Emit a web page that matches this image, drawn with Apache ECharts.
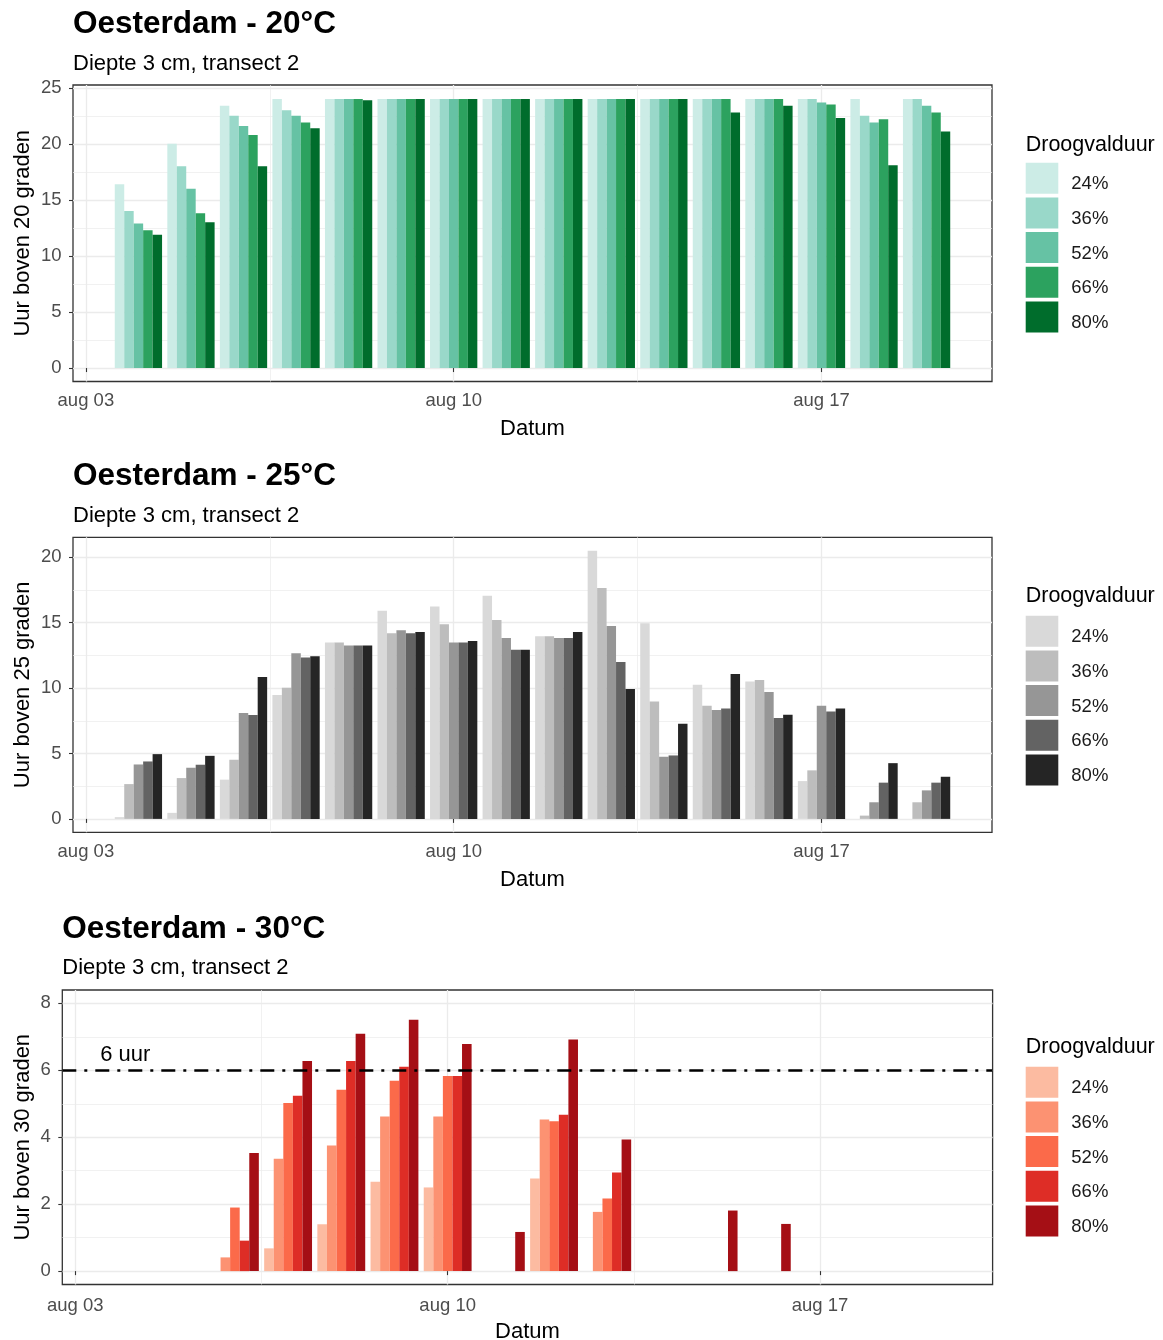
<!DOCTYPE html>
<html>
<head>
<meta charset="utf-8">
<script src="https://cdn.jsdelivr.net/npm/echarts@6/dist/echarts.min.js"></script>
<style>
  html, body { margin: 0; padding: 0; background: #ffffff; }
  #chart { width: 1163px; height: 1340px; }
</style>
</head>
<body>
<div id="chart"></div>
<script>
// Uren boven een drempeltemperatuur, Oesterdam, diepte 3 cm, transect 2
const FONT = '"Liberation Sans", Arial, Helvetica, sans-serif';

// Dag van de maand (augustus)
const days = [4, 5, 6, 7, 8, 9, 10, 11, 12, 13, 14, 15, 16, 17, 18, 19];
const droogvalduur = ['24%', '36%', '52%', '66%', '80%'];

// As-indeling
const xTickDays = [3, 10, 17];
const xTickLabels = ['aug 03', 'aug 10', 'aug 17'];
const xMinorDays = [6.5, 13.5];

// 20 °C: per droogvalduur 24, 36, 52, 66, 80 %
const uur20_24 = [16.4, 20.0, 23.4, 24, 24, 24, 24, 24, 24, 24, 24, 24, 24, 24, 24, 24];
const uur20_36 = [14.0, 18.0, 22.5, 23.0, 24, 24, 24, 24, 24, 24, 24, 24, 24, 24, 22.5, 24];
const uur20_52 = [12.9, 16.0, 21.6, 22.5, 24, 24, 24, 24, 24, 24, 24, 24, 24, 23.7, 21.9, 23.4];
const uur20_66 = [12.3, 13.8, 20.8, 21.9, 24, 24, 24, 24, 24, 24, 24, 24, 24, 23.5, 22.2, 22.8];
const uur20_80 = [11.9, 13.0, 18.0, 21.4, 23.9, 24, 24, 24, 24, 24, 24, 22.8, 23.4, 22.3, 18.1, 21.1];

// 25 °C
const uur25_24 = [0.13, 0.46, 3.0, 9.47, 13.48, 15.91, 16.24, 17.06, 13.96, 20.5, 14.95, 10.25, 10.51, 2.89, 0, 0];
const uur25_36 = [2.66, 3.12, 4.52, 10.03, 13.48, 14.19, 14.87, 15.2, 13.96, 17.64, 8.98, 8.65, 10.61, 3.71, 0.25, 1.27];
const uur25_52 = [4.16, 3.91, 8.10, 12.66, 13.25, 14.42, 13.48, 13.83, 13.83, 14.75, 4.75, 8.32, 9.70, 8.65, 1.27, 2.18];
const uur25_66 = [4.39, 4.14, 7.94, 12.33, 13.25, 14.19, 13.48, 12.92, 13.83, 12.0, 4.85, 8.43, 7.72, 8.20, 2.77, 2.77];
const uur25_80 = [4.95, 4.82, 10.84, 12.44, 13.25, 14.29, 13.6, 12.92, 14.29, 9.92, 7.28, 11.07, 7.97, 8.43, 4.26, 3.22];

// 30 °C
const uur30_24 = [0, 0, 0, 0.68, 1.40, 2.67, 2.50, 0, 2.77, 0, 0, 0, 0, 0, 0, 0];
const uur30_36 = [0, 0, 0.41, 3.36, 3.75, 4.62, 4.62, 0, 4.53, 1.77, 0, 0, 0, 0, 0, 0];
const uur30_52 = [0, 0, 1.90, 5.02, 5.42, 5.69, 5.83, 0, 4.48, 2.17, 0, 0, 0, 0, 0, 0];
const uur30_66 = [0, 0, 0.91, 5.24, 6.28, 6.11, 5.83, 0, 4.67, 2.95, 0, 0, 0, 0, 0, 0];
const uur30_80 = [0, 0, 3.53, 6.28, 7.09, 7.51, 6.79, 1.17, 6.92, 3.93, 0, 1.81, 1.41, 0, 0, 0];

// Drempellijn in het 30 °C paneel
const drempelUur = 6;
const drempelLabel = '6 uur';
const drempelLabelPos = [3.58, 6.45];

const yTicks20 = [0, 5, 10, 15, 20, 25];
const yMinor20 = [2.5, 7.5, 12.5, 17.5, 22.5];
const yTicks25 = [0, 5, 10, 15, 20];
const yMinor25 = [2.5, 7.5, 12.5, 17.5];
const yTicks30 = [0, 2, 4, 6, 8];
const yMinor30 = [1, 3, 5, 7];

const panels = [
  {
    temp: '20', title: 'Oesterdam - 20°C', yName: 'Uur boven 20 graden',
    values: [uur20_24, uur20_36, uur20_52, uur20_66, uur20_80],
    colors: ['#ccece6', '#99d8c9', '#66c2a4', '#2ca25f', '#006d2c'],
    yMin: -1.2, yMax: 25.25, yTicks: yTicks20, yMinor: yMinor20,
    grid: { left: 73, top: 85, width: 919, height: 296.5 },
    titleTop: 8.5, subTop: 53, legendTitleTop: 133.6, legendTop: 162.7,
    yNameGap: 39, xLabelMargin: 10, xNameGap: 36.5
  },
  {
    temp: '25', title: 'Oesterdam - 25°C', yName: 'Uur boven 25 graden',
    values: [uur25_24, uur25_36, uur25_52, uur25_66, uur25_80],
    colors: ['#d9d9d9', '#bdbdbd', '#969696', '#636363', '#252525'],
    yMin: -1.025, yMax: 21.525, yTicks: yTicks25, yMinor: yMinor25,
    grid: { left: 73, top: 537.3, width: 919, height: 295 },
    titleTop: 460.5, subTop: 505, legendTitleTop: 585.3, legendTop: 615.7,
    yNameGap: 39, xLabelMargin: 10, xNameGap: 36.5
  },
  {
    temp: '30', title: 'Oesterdam - 30°C', yName: 'Uur boven 30 graden',
    values: [uur30_24, uur30_36, uur30_52, uur30_66, uur30_80],
    colors: ['#fcbba1', '#fc9272', '#fb6a4a', '#de2d26', '#a50f15'],
    yMin: -0.4, yMax: 8.4, yTicks: yTicks30, yMinor: yMinor30,
    grid: { left: 62.3, top: 990, width: 930.3, height: 294.5 },
    titleTop: 913, subTop: 957, legendTitleTop: 1036.3, legendTop: 1066.7,
    yNameGap: 28.5, xLabelMargin: 12, xNameGap: 36.5,
    threshold: true
  }
];

const X_MIN = 2.755, X_MAX = 20.245;
const GRID_COLOR = '#ebebeb';
const LABEL_COLOR = '#4d4d4d';

const option = {
  backgroundColor: '#ffffff',
  animation: false,
  textStyle: { fontFamily: FONT },
  title: [],
  legend: [],
  grid: [],
  xAxis: [],
  yAxis: [],
  series: []
};

panels.forEach((p, pi) => {
  const left = p.grid.left;
  option.title.push(
    { text: p.title, left: left, top: p.titleTop, padding: 0,
      textStyle: { fontFamily: FONT, fontSize: 31.5, fontWeight: 'bold', color: '#000000' } },
    { text: 'Diepte 3 cm, transect 2', left: left, top: p.subTop, padding: 0,
      textStyle: { fontFamily: FONT, fontSize: 22, fontWeight: 'normal', color: '#000000' } },
    { text: 'Droogvalduur', left: 1025.7, top: p.legendTitleTop, padding: 0,
      textStyle: { fontFamily: FONT, fontSize: 21.5, fontWeight: 'normal', color: '#000000' } }
  );

  option.grid.push({
    left: p.grid.left, top: p.grid.top, width: p.grid.width, height: p.grid.height,
    containLabel: false, outerBoundsMode: 'none',
    show: true, backgroundColor: '#ffffff', borderColor: '#333333', borderWidth: 1.3
  });

  // hoofdas x
  option.xAxis.push({
    type: 'value', gridIndex: pi, min: X_MIN, max: X_MAX, position: 'bottom',
    axisLine: { show: false },
    axisTick: { show: true, length: 4, customValues: xTickDays,
      lineStyle: { color: '#333333', width: 1.1 } },
    axisLabel: { customValues: xTickDays, margin: p.xLabelMargin, color: LABEL_COLOR,
      fontSize: 18.5, fontFamily: FONT,
      formatter: v => {
        const i = xTickDays.findIndex(d => Math.abs(d - v) < 1e-6);
        return i >= 0 ? xTickLabels[i] : '';
      } },
    splitLine: { show: true, lineStyle: { color: GRID_COLOR, width: 1.3 } },
    name: 'Datum', nameLocation: 'middle', nameGap: p.xNameGap, nameMoveOverlap: false,
    nameTextStyle: { fontFamily: FONT, fontSize: 22, color: '#000000' }
  });
  // hulplijnen x
  option.xAxis.push({
    type: 'value', gridIndex: pi, min: X_MIN, max: X_MAX, position: 'bottom',
    axisLine: { show: false },
    axisTick: { show: false, customValues: xMinorDays },
    axisLabel: { show: false, customValues: xMinorDays },
    splitLine: { show: true, lineStyle: { color: GRID_COLOR, width: 0.7 } }
  });

  // hoofdas y
  option.yAxis.push({
    type: 'value', gridIndex: pi, min: p.yMin, max: p.yMax, position: 'left',
    axisLine: { show: false },
    axisTick: { show: true, length: 4, customValues: p.yTicks,
      lineStyle: { color: '#333333', width: 1.1 } },
    axisLabel: { customValues: p.yTicks, margin: 11.5, color: LABEL_COLOR,
      fontSize: 18.5, fontFamily: FONT },
    splitLine: { show: true, lineStyle: { color: GRID_COLOR, width: 1.3 } },
    name: p.yName, nameLocation: 'middle', nameGap: p.yNameGap, nameMoveOverlap: false,
    nameTextStyle: { fontFamily: FONT, fontSize: 22, color: '#000000' }
  });
  // hulplijnen y
  option.yAxis.push({
    type: 'value', gridIndex: pi, min: p.yMin, max: p.yMax, position: 'left',
    axisLine: { show: false },
    axisTick: { show: false, customValues: p.yMinor },
    axisLabel: { show: false, customValues: p.yMinor },
    splitLine: { show: true, lineStyle: { color: GRID_COLOR, width: 0.7 } }
  });

  const names = droogvalduur.map(d => p.temp + '°C ' + d);
  names.forEach((name, si) => {
    const s = {
      type: 'bar', name: name,
      xAxisIndex: pi * 2, yAxisIndex: pi * 2,
      data: days.map((d, i) => [d, p.values[si][i]]),
      barWidth: '18%', barGap: '0%',
      itemStyle: { color: p.colors[si] },
      emphasis: { disabled: true }
    };
    if (p.threshold && si === names.length - 1) {
      s.markLine = {
        silent: true, symbol: ['none', 'none'],
        label: { show: false },
        lineStyle: { color: '#000000', width: 2.7, type: [14, 8, 3, 8], opacity: 1 },
        emphasis: { disabled: true },
        data: [{ yAxis: drempelUur }]
      };
      s.markPoint = {
        silent: true, symbol: 'rect', symbolSize: 0,
        label: { show: true, position: 'inside', formatter: drempelLabel,
          fontFamily: FONT, fontSize: 22, color: '#000000' },
        data: [{ coord: drempelLabelPos }]
      };
    }
    option.series.push(s);
  });

  option.legend.push({
    orient: 'vertical', left: 1025.7, top: p.legendTop, padding: 0,
    itemWidth: 32.6, itemHeight: 31, itemGap: 3.7, icon: 'rect',
    selectedMode: false,
    data: names,
    formatter: name => '{lab|' + name.split(' ')[1] + '}',
    textStyle: {
      fontFamily: FONT, fontSize: 18.5, color: '#1a1a1a',
      rich: { lab: { fontFamily: FONT, fontSize: 18.5, color: '#1a1a1a', padding: [12, 0, 0, 8] } }
    }
  });
});

const chart = echarts.init(document.getElementById('chart'), null, { renderer: 'canvas' });
chart.setOption(option);
</script>
</body>
</html>
